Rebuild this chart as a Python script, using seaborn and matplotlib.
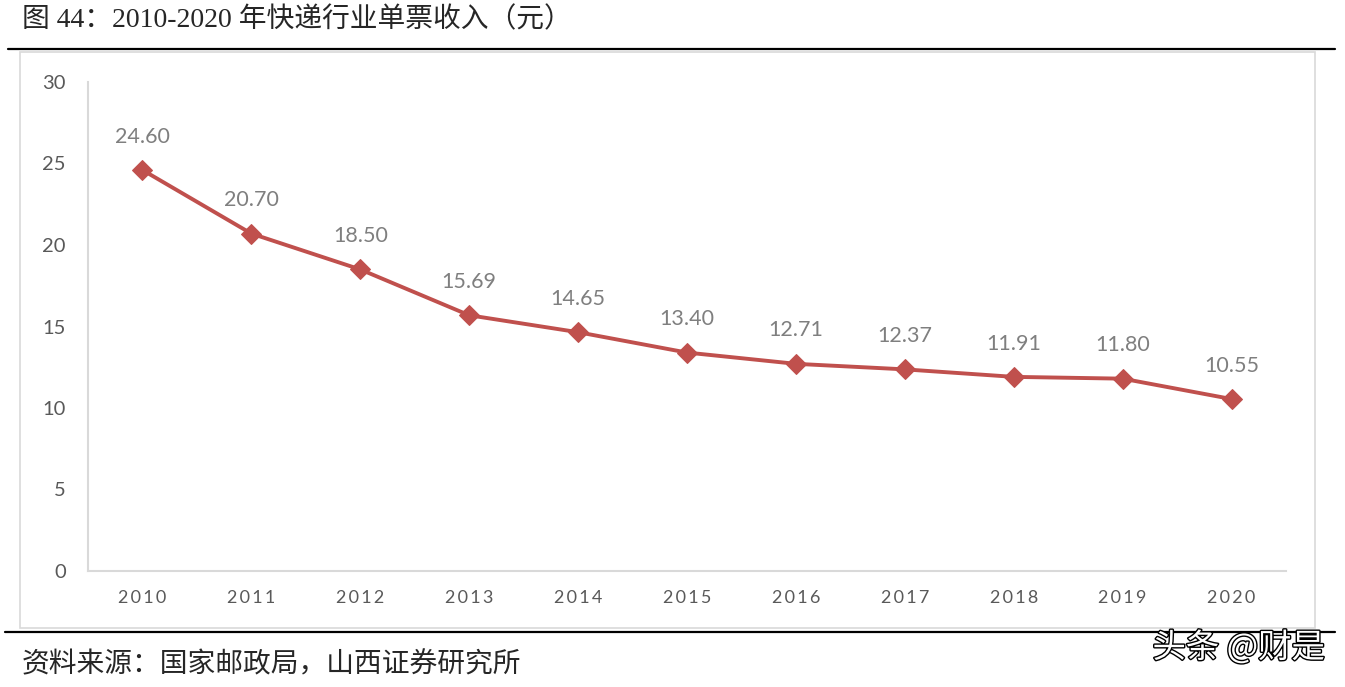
import matplotlib
matplotlib.use("Agg")
import matplotlib.pyplot as plt
import matplotlib.patheffects as pe
from matplotlib.lines import Line2D
from matplotlib.patches import Rectangle
import seaborn as sns
import pandas as pd

years = ["2010", "2011", "2012", "2013", "2014", "2015", "2016", "2017", "2018", "2019", "2020"]
revenue = [24.60, 20.70, 18.50, 15.69, 14.65, 13.40, 12.71, 12.37, 11.91, 11.80, 10.55]
y_ticks = [0, 5, 10, 15, 20, 25, 30]

title = "图 44：2010-2020 年快递行业单票收入（元）"
source = "资料来源：国家邮政局，山西证券研究所"
watermark = "头条 @财是"

sns.set_style("white")
plt.rcParams['font.family'] = ['Lato', 'Noto Sans CJK SC', 'DejaVu Sans']

data = pd.DataFrame({"year": years, "revenue": revenue})
data["pos"] = range(len(years))

fig = plt.figure(figsize=(13.45, 6.87), dpi=100)
ax = fig.add_axes([88 / 1345, 1 - 571 / 687, (1286 - 88) / 1345, (571 - 82) / 687])

sns.lineplot(data=data, x="pos", y="revenue", ax=ax, color="#C0504D", lw=2.8,
             marker="D", markersize=10, markeredgecolor="#C0504D")

for x, v in zip(data["pos"], data["revenue"]):
    ax.annotate(f"{v:.2f}", (x, v), xytext=(0, 24), textcoords="offset points",
                ha="center", va="center", fontsize=15.5, color="#7F7F7F")

# spaced-out year labels like the original
spaced = ["\u2009".join(y) for y in years]

ax.set_xlim(-0.5, len(years) - 0.5)
ax.set_ylim(0, 30)
ax.set_xticks(list(data["pos"]))
ax.set_xticklabels(spaced)
ax.set_xticks([i - 0.5 for i in range(len(years) + 1)], minor=True)
ax.set_yticks(y_ticks)
ax.set_xlabel("")
ax.set_ylabel("")
ax.tick_params(axis="x", which="major", length=0, pad=14, labelsize=13, labelcolor="#595959")
ax.tick_params(axis="x", which="minor", length=6, width=1.2, color="#D9D9D9", direction="out")
ax.tick_params(axis="y", length=0, pad=16, labelsize=14.5, labelcolor="#595959")
sns.despine(ax=ax, top=True, right=True)
for side in ["left", "bottom"]:
    ax.spines[side].set_color("#D9D9D9")
    ax.spines[side].set_linewidth(1.5)

# chart frame and rules
fig.add_artist(Rectangle((20 / 1345, 1 - 628 / 687), (1315 - 20) / 1345, (628 - 52) / 687,
                         transform=fig.transFigure, fill=False, edgecolor="#D9D9D9", lw=1.2))
fig.add_artist(Line2D([8 / 1345, 1335 / 1345], [1 - 49 / 687] * 2, color="black", lw=1.6,
                      transform=fig.transFigure))
fig.add_artist(Line2D([5 / 1345, 1335 / 1345], [1 - 632 / 687] * 2, color="black", lw=1.6,
                      transform=fig.transFigure))

fig.text(22 / 1345, 1 - 20 / 687, title, fontsize=20, va="center", ha="left",
         family=['Liberation Serif', 'Noto Sans CJK SC'])
fig.text(22 / 1345, 1 - 664 / 687, source, fontsize=20, va="center", ha="left",
         family=['Noto Sans CJK SC', 'DejaVu Sans'])
fig.text(1325 / 1345, 1 - 648 / 687, watermark, fontsize=24, va="center", ha="right", color="white",
         family=['Noto Sans CJK SC', 'DejaVu Sans'],
         path_effects=[pe.Stroke(linewidth=2, foreground="black"), pe.Normal()])

fig.savefig("out.png", dpi=100)
